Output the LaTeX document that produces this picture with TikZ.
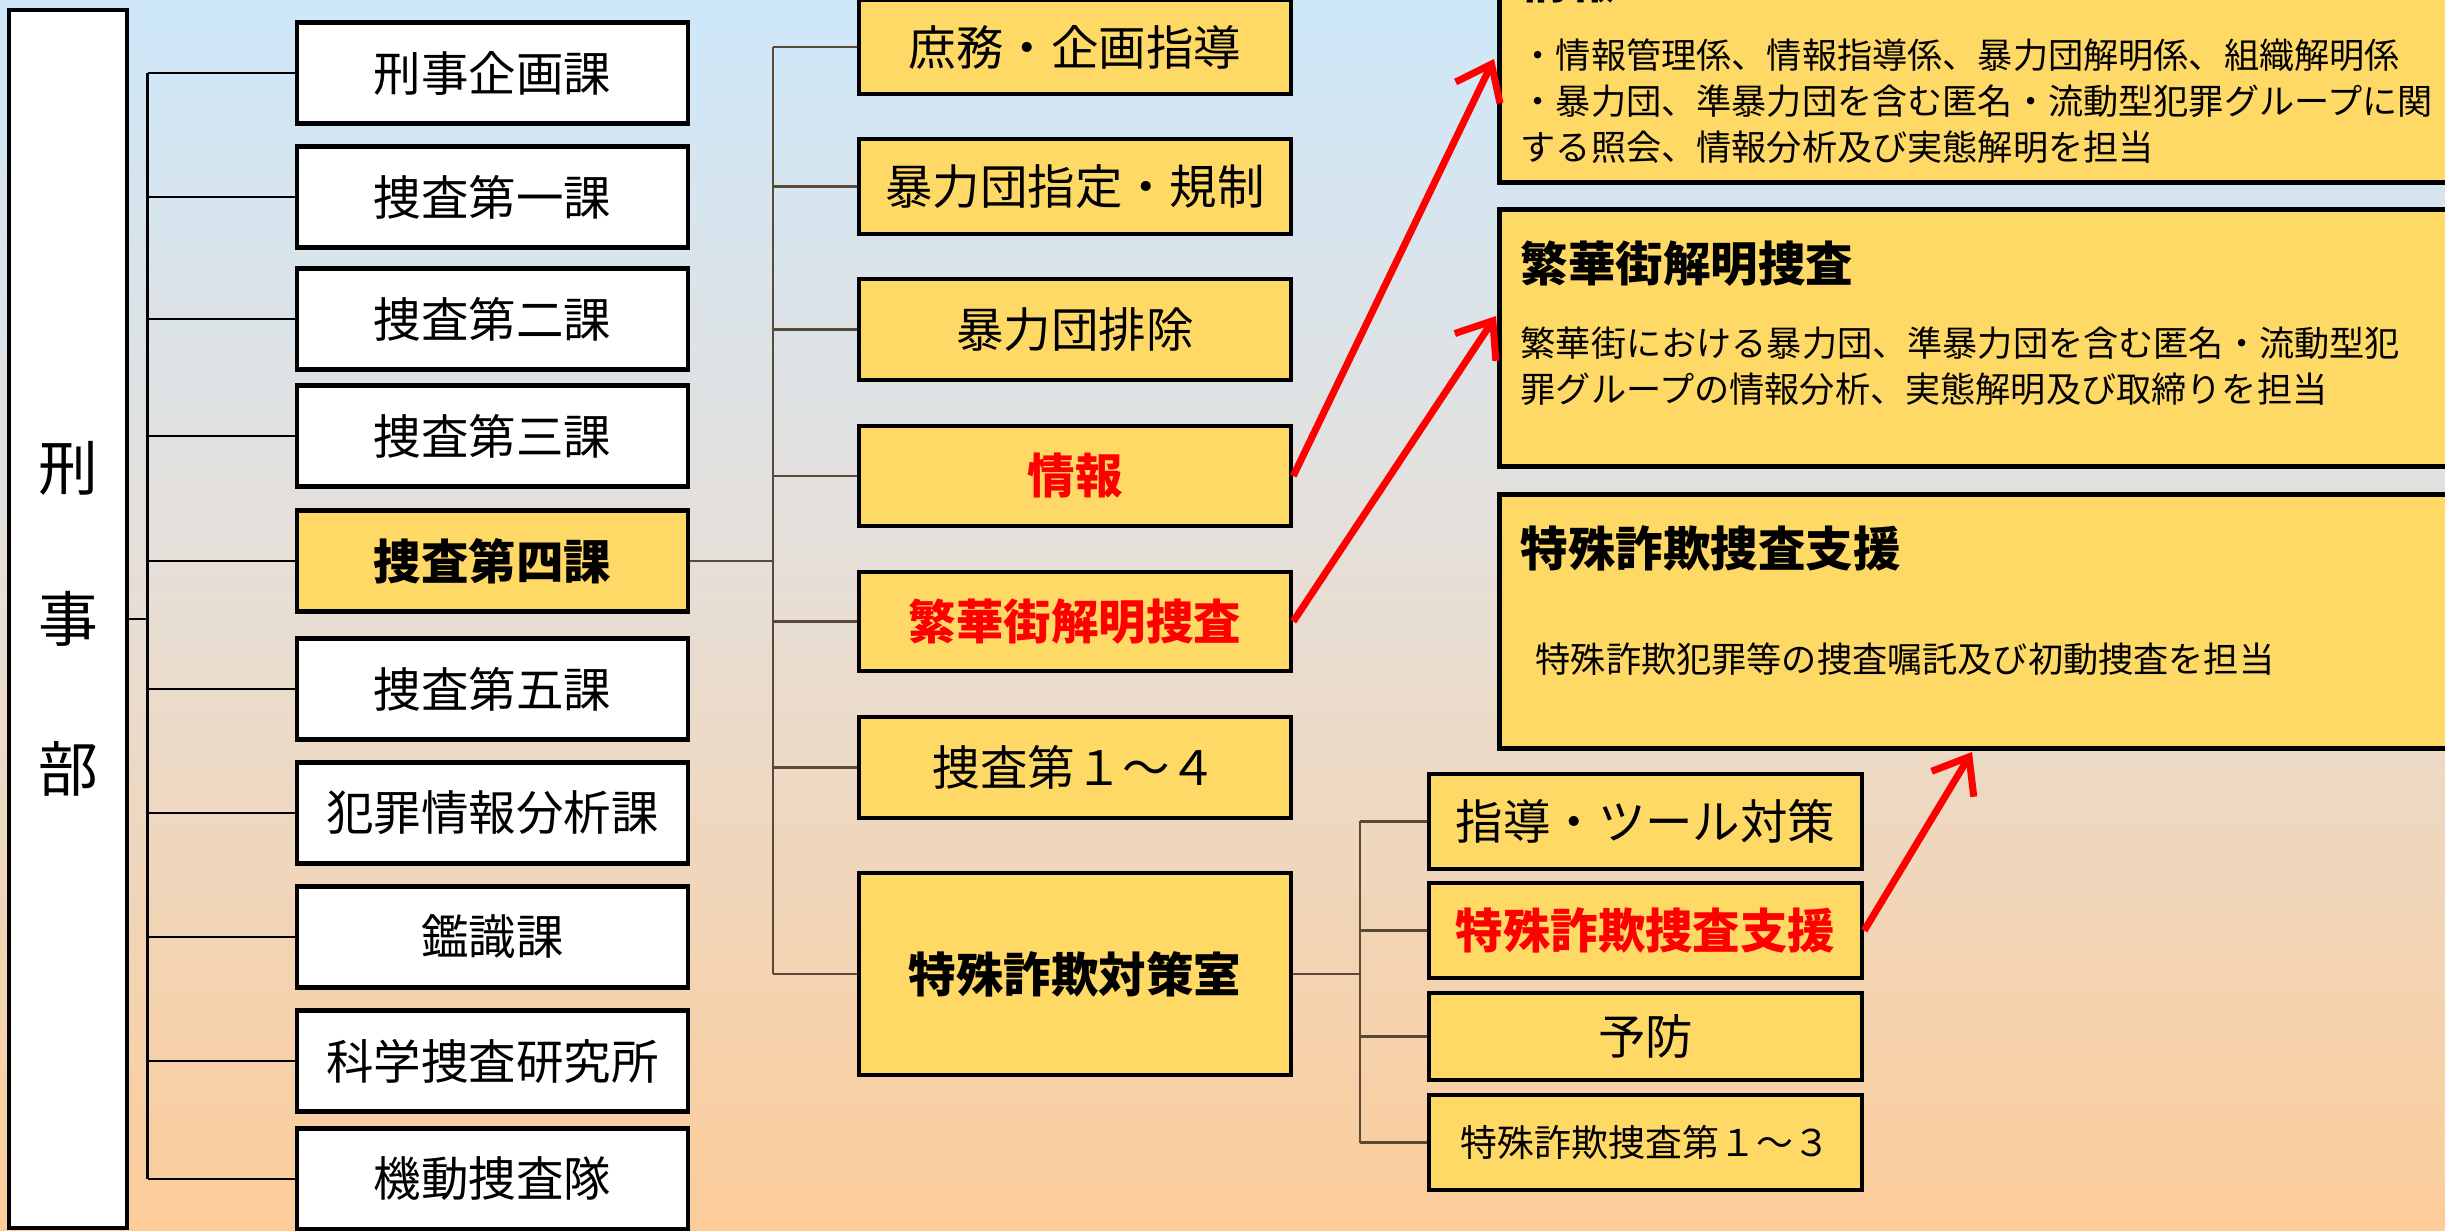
\documentclass[tikz,border=0pt]{standalone}
\usepackage{fontspec}
\setmainfont{Noto Sans CJK JP}
\usepackage{tikz}
\usetikzlibrary{arrows.meta}
\definecolor{boxyellow}{RGB}{255,217,102}
\definecolor{linebrown}{RGB}{89,74,56}
\definecolor{bgtop}{RGB}{206,232,250}
\definecolor{bgmid}{RGB}{228,224,220}
\definecolor{bgbot}{RGB}{252,204,153}
\newcommand{\jpbig}{\fontsize{13.5pt}{16pt}\selectfont}
\newcommand{\jpsmall}{\fontsize{10pt}{13.1pt}\selectfont}
\pgfdeclareverticalshading{bgshade}{100bp}{color(0bp)=(bgbot); color(25bp)=(bgbot); color(54bp)=(bgmid); color(75bp)=(bgtop); color(100bp)=(bgtop)}
\tikzstyle{wbox} = [draw,line width=1.2pt,fill=white,inner sep=0pt,minimum height=1.01cm,font=\jpbig]
\tikzstyle{ka} = [wbox,minimum width=3.91cm]
\tikzstyle{kakari} = [wbox,fill=boxyellow,minimum width=4.32cm]
\tikzstyle{han} = [wbox,fill=boxyellow,minimum width=4.33cm,minimum height=0.95cm]
\tikzstyle{infobox} = [draw,line width=1.4pt,fill=boxyellow,inner sep=0pt,minimum width=9.7cm]
\tikzstyle{txt} = [anchor=west,inner sep=0pt,align=left]
\tikzstyle{branch} = [line width=0.6pt]
\tikzstyle{redarrow} = [red,line width=2pt,-{Straight Barb[length=9pt,width=14pt]}]

\begin{document}
\begin{tikzpicture}[x=0.01cm,y=-0.01cm]
\useasboundingbox (0,0) rectangle (2445,1231);
\fill[shading=bgshade] (0,0) rectangle (2445,1231);

\draw(68,619) node[wbox,minimum width=1.18cm,minimum height=12.18cm,align=center,font=\fontsize{17pt}{42.7pt}\selectfont] (keiji) {刑\\事\\部};

\draw(492.5,73) node[ka] (kikaku) {刑事企画課};
\draw(492.5,197) node[ka] (sousa1) {捜査第一課};
\draw(492.5,319) node[ka] (sousa2) {捜査第二課};
\draw(492.5,436) node[ka] (sousa3) {捜査第三課};
\draw(492.5,561) node[ka,fill=boxyellow,font=\jpbig\bfseries] (sousa4) {捜査第四課};
\draw(492.5,689) node[ka] (sousa5) {捜査第五課};
\draw(492.5,813) node[ka] (hanzai) {犯罪情報分析課};
\draw(492.5,937) node[ka] (kanshiki) {鑑識課};
\draw(492.5,1061) node[ka] (kasouken) {科学捜査研究所};
\draw(492.5,1179) node[ka] (kidou) {機動捜査隊};

\coordinate (t1) at (147.5,619);
\draw[branch] (keiji.east) -- (t1);
\draw[branch] (t1 |- kikaku.west) -- (t1 |- kidou.west);
\draw[branch] (kikaku.west) -- (t1 |- kikaku.west);
\draw[branch] (sousa1.west) -- (t1 |- sousa1.west);
\draw[branch] (sousa2.west) -- (t1 |- sousa2.west);
\draw[branch] (sousa3.west) -- (t1 |- sousa3.west);
\draw[branch] (sousa4.west) -- (t1 |- sousa4.west);
\draw[branch] (sousa5.west) -- (t1 |- sousa5.west);
\draw[branch] (hanzai.west) -- (t1 |- hanzai.west);
\draw[branch] (kanshiki.west) -- (t1 |- kanshiki.west);
\draw[branch] (kasouken.west) -- (t1 |- kasouken.west);
\draw[branch] (kidou.west) -- (t1 |- kidou.west);


\draw(1075,47) node[kakari,minimum height=0.94cm] (shomu) {庶務・企画指導};
\draw(1075,186.5) node[kakari,minimum height=0.95cm] (shitei) {暴力団指定・規制};
\draw(1075,329.5) node[kakari] (haijo) {暴力団排除};
\draw(1075,476) node[kakari,minimum height=1cm,text=red,font=\jpbig\bfseries] (jouhou) {情報};
\draw(1075,621.5) node[kakari,minimum height=0.99cm,text=red,font=\jpbig\bfseries] (hanka) {繁華街解明捜査};
\draw(1075,767.5) node[kakari] (sousa14) {捜査第１～４};
\draw(1075,974) node[kakari,minimum height=2.02cm,font=\jpbig\bfseries] (tokusou) {特殊詐欺対策室};

\coordinate (t2) at (773,561);
\draw[branch,linebrown] (sousa4.east) -- (t2);
\draw[branch,linebrown] (t2 |- shomu.west) -- (t2 |- tokusou.west);
\draw[branch,linebrown] (shomu.west) -- (t2 |- shomu.west);
\draw[branch,linebrown] (shitei.west) -- (t2 |- shitei.west);
\draw[branch,linebrown] (haijo.west) -- (t2 |- haijo.west);
\draw[branch,linebrown] (jouhou.west) -- (t2 |- jouhou.west);
\draw[branch,linebrown] (hanka.west) -- (t2 |- hanka.west);
\draw[branch,linebrown] (sousa14.west) -- (t2 |- sousa14.west);
\draw[branch,linebrown] (tokusou.west) -- (t2 |- tokusou.west);


\draw(1645.5,821.5) node[han] (shidou) {指導・ツール対策};
\draw(1645.5,930.5) node[han,text=red,font=\jpbig\bfseries] (shien) {特殊詐欺捜査支援};
\draw(1645.5,1036.5) node[han,minimum height=0.87cm] (yobou) {予防};
\draw(1645.5,1142.5) node[han,font=\fontsize{10.5pt}{13pt}\selectfont] (tokusa13) {特殊詐欺捜査第１～３};

\coordinate (t3) at (1360,974);
\draw[branch,linebrown] (tokusou.east) -- (t3);
\draw[branch,linebrown] (t3 |- shidou.west) -- (t3 |- tokusa13.west);
\draw[branch,linebrown] (shidou.west) -- (t3 |- shidou.west);
\draw[branch,linebrown] (shien.west) -- (t3 |- shien.west);
\draw[branch,linebrown] (yobou.west) -- (t3 |- yobou.west);
\draw[branch,linebrown] (tokusa13.west) -- (t3 |- tokusa13.west);


\draw(1985,66) node[infobox,minimum height=2.32cm] (jouhoubox) {};
\draw(1520,-19) node[txt,font=\jpbig\bfseries] (jouhoutitle) {情報};
\draw(1520,101) node[txt,font=\jpsmall] (jouhoutext) {・情報管理係、情報指導係、暴力団解明係、組織解明係\\・暴力団、準暴力団を含む匿名・流動型犯罪グループに関\\する照会、情報分析及び実態解明を担当};

\draw(1985,338) node[infobox,minimum height=2.56cm] (hankabox) {};
\draw(1520,264) node[txt,font=\jpbig\bfseries] (hankatitle) {繁華街解明捜査};
\draw(1520,366) node[txt,font=\jpsmall] (hankatext) {繁華街における暴力団、準暴力団を含む匿名・流動型犯\\罪グループの情報分析、実態解明及び取締りを担当};

\draw(1985,621.5) node[infobox,minimum height=2.53cm] (shienbox) {};
\draw(1520,548) node[txt,font=\jpbig\bfseries] (shientitle) {特殊詐欺捜査支援};
\draw(1535,659) node[txt,font=\jpsmall] (shientext) {特殊詐欺犯罪等の捜査嘱託及び初動捜査を担当};

\coordinate (a1) at (1494,59);
\coordinate (a2) at (1496,316);
\coordinate (a3) at (1972,752);
\draw[redarrow] (jouhou.east) -- (a1);
\draw[redarrow] (hanka.east) -- (a2);
\draw[redarrow] (shien.east) -- (a3);

\end{tikzpicture}
\end{document}
